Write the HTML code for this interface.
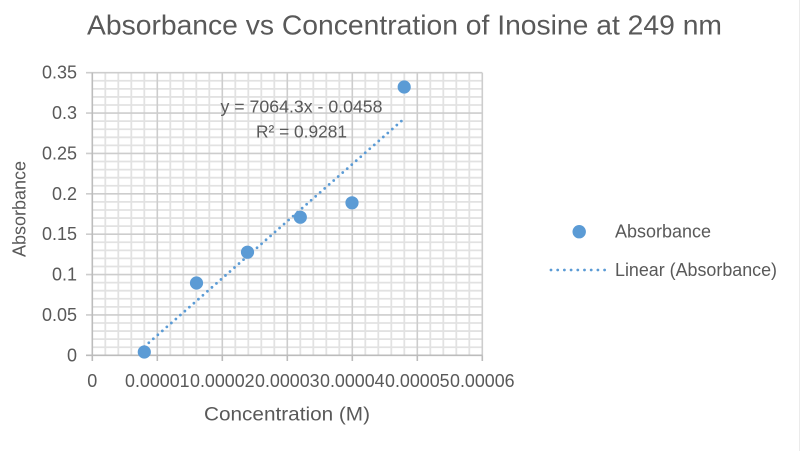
<!DOCTYPE html>
<html>
<head>
<meta charset="utf-8">
<style>
  html,body{margin:0;padding:0;background:#fff;}
  svg{display:block;}
  text{font-family:"Liberation Sans",Arial,sans-serif;fill:#595959;}
</style>
</head>
<body>
<svg width="800" height="451" viewBox="0 0 800 451" xmlns="http://www.w3.org/2000/svg">
  <rect x="0" y="0" width="800" height="451" fill="#ffffff"/>
  <line x1="799.5" y1="0" x2="799.5" y2="451" stroke="#ebebeb" stroke-width="1"/>

  <!-- Title -->
  <text x="87" y="34.3" font-size="27.5" textLength="635" lengthAdjust="spacingAndGlyphs">Absorbance vs Concentration of Inosine at 249 nm</text>

  <!-- Minor gridlines -->
  <path fill="none" stroke="#e2e2e2" stroke-width="1.8" d="
    M105.3 72.7V355.3M118.3 72.7V355.3M131.3 72.7V355.3M144.3 72.7V355.3
    M170.3 72.7V355.3M183.3 72.7V355.3M196.3 72.7V355.3M209.3 72.7V355.3
    M235.3 72.7V355.3M248.3 72.7V355.3M261.3 72.7V355.3M274.3 72.7V355.3
    M300.3 72.7V355.3M313.3 72.7V355.3M326.3 72.7V355.3M339.3 72.7V355.3
    M365.3 72.7V355.3M378.3 72.7V355.3M391.3 72.7V355.3M404.3 72.7V355.3
    M430.3 72.7V355.3M443.3 72.7V355.3M456.3 72.7V355.3M469.3 72.7V355.3
    M92.3 347.23H482.3M92.3 339.15H482.3M92.3 331.08H482.3M92.3 323.0H482.3
    M92.3 306.86H482.3M92.3 298.78H482.3M92.3 290.71H482.3M92.3 282.63H482.3
    M92.3 266.49H482.3M92.3 258.41H482.3M92.3 250.34H482.3M92.3 242.26H482.3
    M92.3 226.12H482.3M92.3 218.04H482.3M92.3 209.97H482.3M92.3 201.89H482.3
    M92.3 185.75H482.3M92.3 177.67H482.3M92.3 169.60H482.3M92.3 161.52H482.3
    M92.3 145.38H482.3M92.3 137.30H482.3M92.3 129.23H482.3M92.3 121.15H482.3
    M92.3 105.01H482.3M92.3 96.93H482.3M92.3 88.86H482.3M92.3 80.78H482.3"/>

  <!-- Major gridlines -->
  <path fill="none" stroke="#cdcdcd" stroke-width="1.6" d="
    M157.3 72.7V355.3M222.3 72.7V355.3M287.3 72.7V355.3M352.3 72.7V355.3M417.3 72.7V355.3M482.3 72.7V355.3
    M86 314.93H482.3M86 274.56H482.3M86 234.19H482.3M86 193.82H482.3M86 153.45H482.3M86 113.08H482.3M86 72.71H482.3"/>

  <!-- Axes -->
  <path fill="none" stroke="#bcbcbc" stroke-width="1.6" d="
    M92.3 72.7V361M86 355.3H482.3
    M157.3 355.3V361M222.3 355.3V361M287.3 355.3V361M352.3 355.3V361M417.3 355.3V361M482.3 355.3V361
    M86 355.3H92.3"/>

  <!-- Y tick labels -->
  <g font-size="18" text-anchor="end">
    <text x="77" y="78.7">0.35</text>
    <text x="77" y="119.1">0.3</text>
    <text x="77" y="159.5">0.25</text>
    <text x="77" y="199.8">0.2</text>
    <text x="77" y="240.2">0.15</text>
    <text x="77" y="280.6">0.1</text>
    <text x="77" y="320.9">0.05</text>
    <text x="77" y="361.3">0</text>
  </g>

  <!-- X tick labels -->
  <g font-size="18" text-anchor="middle">
    <text x="92.3" y="387">0</text>
    <text x="157.3" y="387" textLength="64.5" lengthAdjust="spacingAndGlyphs">0.00001</text>
    <text x="222.3" y="387" textLength="64.5" lengthAdjust="spacingAndGlyphs">0.00002</text>
    <text x="287.3" y="387" textLength="64.5" lengthAdjust="spacingAndGlyphs">0.00003</text>
    <text x="352.3" y="387" textLength="64.5" lengthAdjust="spacingAndGlyphs">0.00004</text>
    <text x="417.3" y="387" textLength="64.5" lengthAdjust="spacingAndGlyphs">0.00005</text>
    <text x="482.3" y="387" textLength="64.5" lengthAdjust="spacingAndGlyphs">0.00006</text>
  </g>

  <!-- Axis titles -->
  <text x="204" y="420.5" font-size="19.5" textLength="166" lengthAdjust="spacingAndGlyphs">Concentration (M)</text>
  <text transform="translate(25.5,209) rotate(-90)" text-anchor="middle" font-size="18.5" textLength="96" lengthAdjust="spacingAndGlyphs">Absorbance</text>

  <!-- Trendline -->
  <line x1="144.3" y1="346.7" x2="404.3" y2="118.5" stroke="#5b9bd5" stroke-width="2.8" stroke-linecap="round" stroke-dasharray="0 6"/>

  <!-- Data points -->
  <g fill="#5b9bd5">
    <circle cx="144.3" cy="352" r="6.6"/>
    <circle cx="196.5" cy="283" r="6.6"/>
    <circle cx="247.5" cy="252.2" r="6.6"/>
    <circle cx="300.3" cy="217.2" r="6.6"/>
    <circle cx="352" cy="202.8" r="6.6"/>
    <circle cx="404.2" cy="87" r="6.6"/>
  </g>

  <!-- Equation -->
  <text x="220.5" y="112.7" font-size="17.7" textLength="162" lengthAdjust="spacingAndGlyphs">y = 7064.3x - 0.0458</text>
  <text x="256" y="137.3" font-size="17.7" textLength="91" lengthAdjust="spacingAndGlyphs">R² = 0.9281</text>

  <!-- Legend -->
  <circle cx="579.2" cy="231.7" r="6.7" fill="#5b9bd5"/>
  <text x="615" y="237.3" font-size="18.5" textLength="96" lengthAdjust="spacingAndGlyphs">Absorbance</text>
  <line x1="551" y1="270" x2="605" y2="270" stroke="#5b9bd5" stroke-width="2.8" stroke-linecap="round" stroke-dasharray="0 6.7"/>
  <text x="615" y="276" font-size="18.5" textLength="162" lengthAdjust="spacingAndGlyphs">Linear (Absorbance)</text>
</svg>
</body>
</html>
